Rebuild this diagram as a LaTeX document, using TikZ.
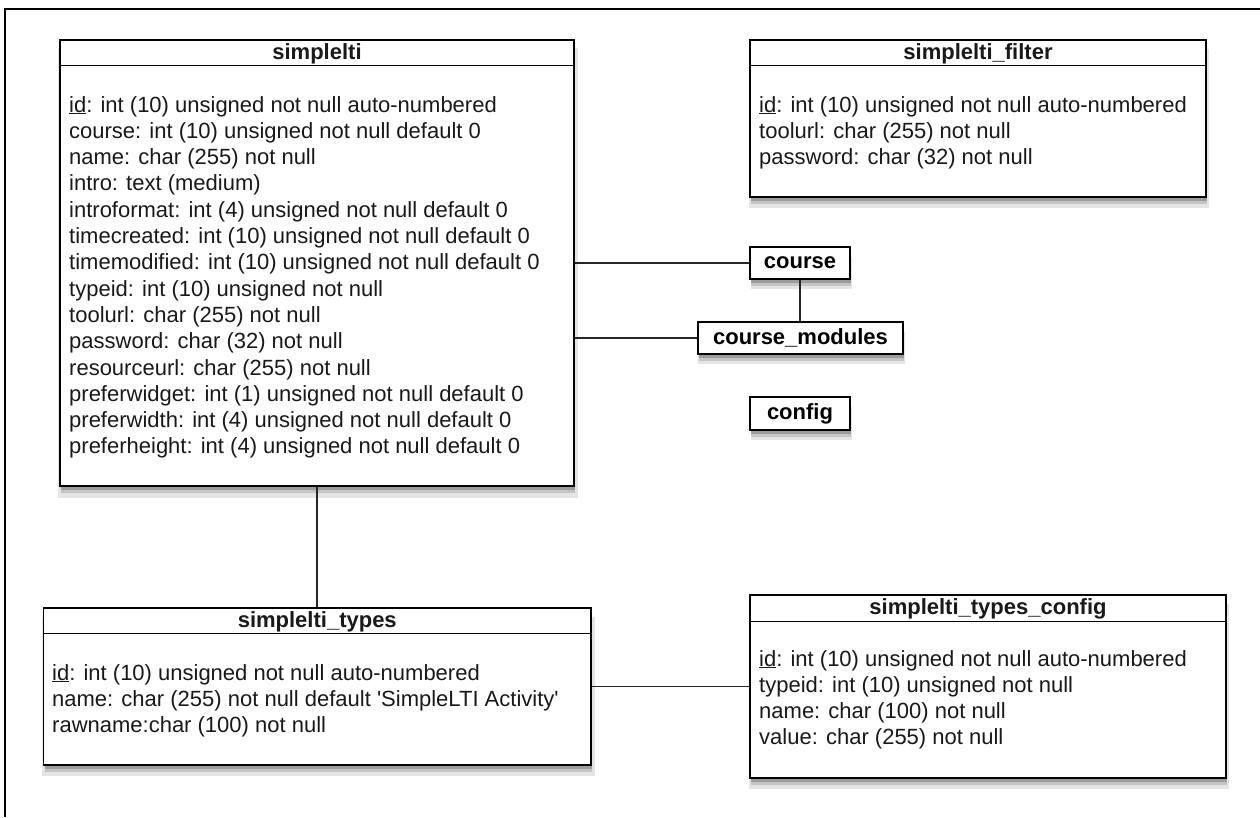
\documentclass[tikz,border=0pt]{standalone}
\usepackage{fontspec}
\setmainfont{Liberation Sans}
\usetikzlibrary{shadows}
\begin{document}
\begin{tikzpicture}[x=1pt,y=-1pt,
  tbl/.style={draw=black, line width=1.6pt, fill=white, inner sep=0pt, rectangle,
    drop shadow={opacity=0.10, shadow xshift=1pt, shadow yshift=-10pt, shadow scale=1.01, fill=black},
    drop shadow={opacity=0.14, shadow xshift=1pt, shadow yshift=-7pt, fill=black},
    drop shadow={opacity=0.20, shadow xshift=1pt, shadow yshift=-4pt, fill=black}},
  small/.style={tbl, minimum height=32pt, font=\fontsize{22}{26}\selectfont\bfseries},
  ttl/.style={font=\fontsize{22}{26}\selectfont\bfseries, inner sep=0pt, anchor=base, text=black!90},
  flds/.style={font=\fontsize{22}{26.3}\selectfont, align=left, inner sep=0pt, anchor=base west, text=black!90},
  hdr/.style={line width=1.4pt, draw=black},
  conn/.style={line width=1.4pt, draw=black!85}]
\useasboundingbox (0,0) rectangle (1260,817);
\fill[white] (0,0) rectangle (1260,817);
% frame
\draw[line width=2.4pt] (5,817) -- (5,9) -- (1260,9);

% simplelti (anchor = baseline of the last line)
\node[tbl, minimum width=514pt, minimum height=446pt] (sl) at (317,263) {};
\draw[hdr] ([yshift=-26pt]sl.north west) -- ([yshift=-26pt]sl.north east);
\node[ttl] (slt) at ([yshift=-20pt]sl.north) {simplelti};
\node[flds] (slf) at (69,453.9) {\underline{id}: int (10) unsigned not null auto-numbered\\
course: int (10) unsigned not null default 0\\
name: char (255) not null\\
intro: text (medium)\\
introformat: int (4) unsigned not null default 0\\
timecreated: int (10) unsigned not null default 0\\
timemodified: int (10) unsigned not null default 0\\
typeid: int (10) unsigned not null\\
toolurl: char (255) not null\\
password: char (32) not null\\
resourceurl: char (255) not null\\
preferwidget: int (1) unsigned not null default 0\\
preferwidth: int (4) unsigned not null default 0\\
preferheight: int (4) unsigned not null default 0};

% simplelti_filter
\node[tbl, minimum width=456pt, minimum height=157pt] (flt) at (978,118.5) {};
\draw[hdr] ([yshift=-26pt]flt.north west) -- ([yshift=-26pt]flt.north east);
\node[ttl] (fltt) at ([yshift=-20pt]flt.north) {simplelti\_filter};
\node[flds] (fltf) at (759,164.6) {\underline{id}: int (10) unsigned not null auto-numbered\\
toolurl: char (255) not null\\
password: char (32) not null};

% small tables
\node[small, minimum width=100pt] (course) at (800,263) {course};
\node[small, minimum width=205pt] (cm) at (800.5,338) {course\_modules};
\node[small, minimum width=100pt, minimum height=33pt] (config) at (800,413.5) {config};

% simplelti_types
\node[tbl, minimum width=547.5pt, minimum height=157pt] (types) at (317.25,686.5) {};
\draw[hdr] ([yshift=-26pt]types.north west) -- ([yshift=-26pt]types.north east);
\node[ttl] (typest) at ([yshift=-20pt]types.north) {simplelti\_types};
\node[flds] (typesf) at (52,732.6) {\underline{id}: int (10) unsigned not null auto-numbered\\
name: char (255) not null default \textquotesingle SimpleLTI Activity\textquotesingle\\
rawname:char (100) not null};

% simplelti_types_config
\node[tbl, minimum width=476pt, minimum height=183pt] (tc) at (988,686.5) {};
\draw[hdr] ([yshift=-27pt]tc.north west) -- ([yshift=-27pt]tc.north east);
\node[ttl] (tct) at ([yshift=-20pt]tc.north) {simplelti\_types\_config};
\node[flds] (tcf) at (759,744.9) {\underline{id}: int (10) unsigned not null auto-numbered\\
typeid: int (10) unsigned not null\\
name: char (100) not null\\
value: char (255) not null};

% connectors
\draw[conn] (sl.east |- course.west) -- (course.west);
\draw[conn] (sl.east |- cm.west) -- (cm.west);
\draw[conn] (course.south) -- (course.south |- cm.north);
\draw[conn] (sl.south) -- (sl.south |- types.north);
\draw[conn] (types.east) -- (types.east -| tc.west);
\end{tikzpicture}
\end{document}
